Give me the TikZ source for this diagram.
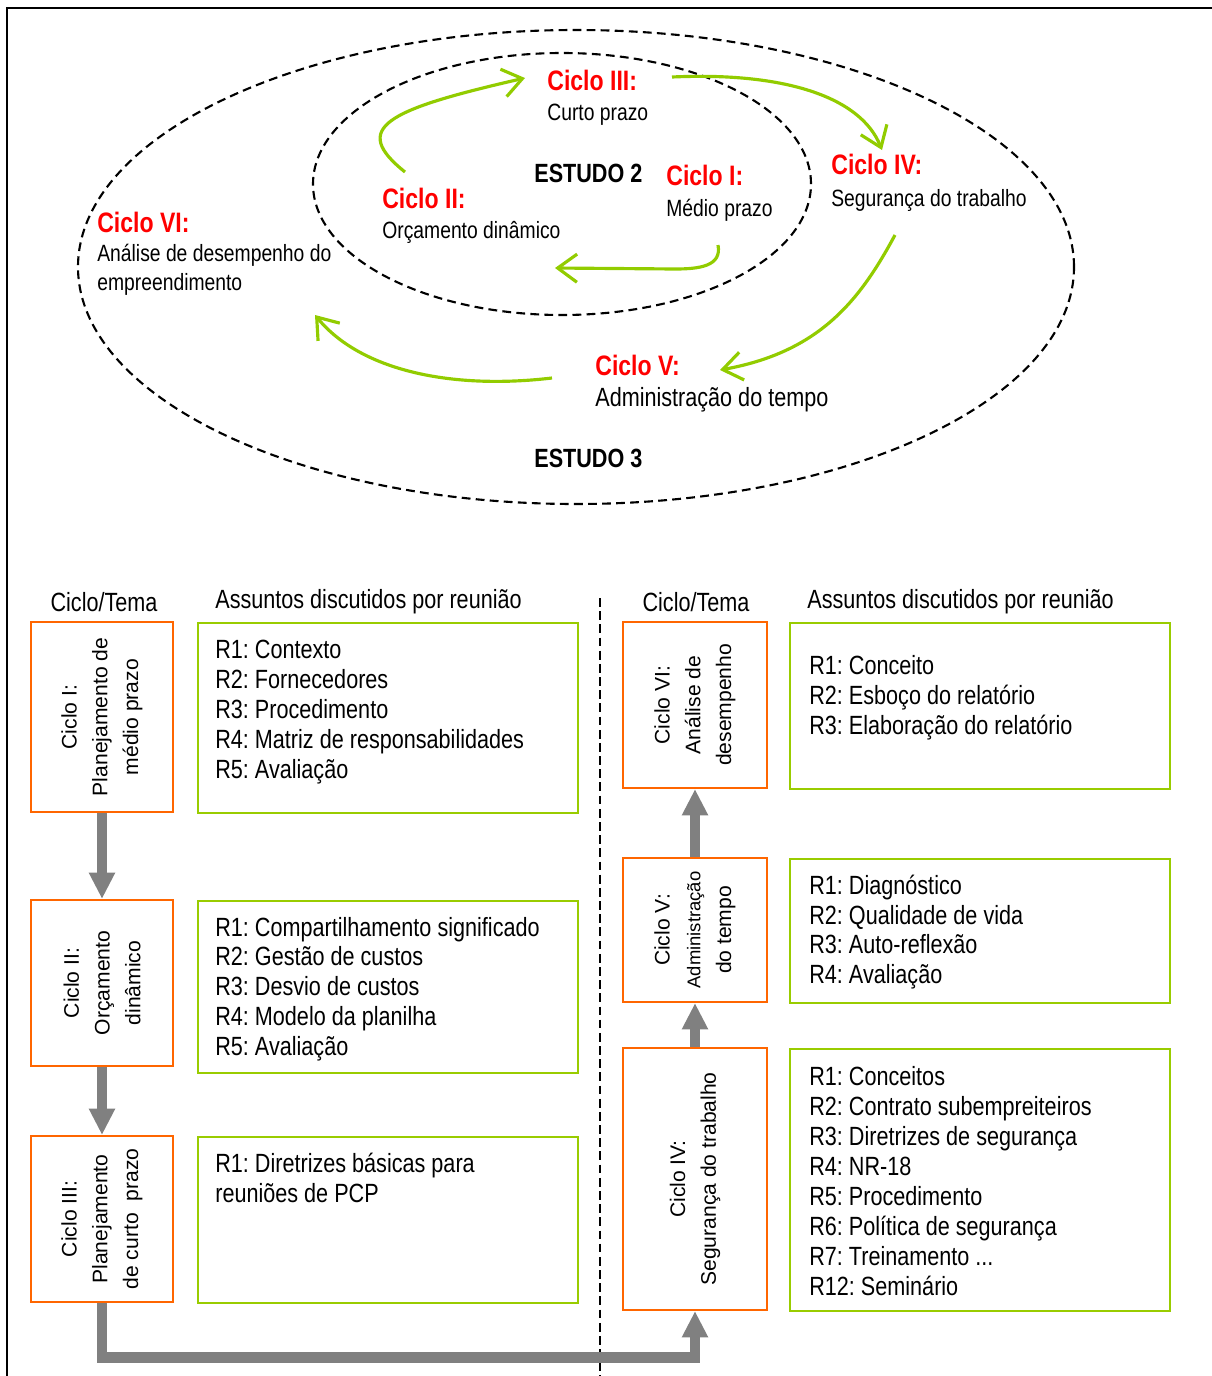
\documentclass[tikz,border=0pt]{standalone}
\usepackage{fontspec}
\setmainfont{Liberation Sans}
\newfontfamily\narrow{Liberation Sans}[FakeStretch=0.82]
\usetikzlibrary{arrows.meta,positioning,calc,shapes.geometric}
\definecolor{cycred}{RGB}{255,0,0}
\definecolor{arrgreen}{RGB}{146,204,0}
\definecolor{boxgreen}{RGB}{153,204,0}
\definecolor{boxorange}{RGB}{255,102,0}
\definecolor{flowgray}{RGB}{128,128,128}
\frenchspacing
\tikzset{
  study/.style={draw, ellipse, inner sep=0pt, dash pattern=on 5pt off 3pt, line width=1.2pt},
  cycname/.style={anchor=base west, inner sep=0pt, text=cycred, font=\narrow\bfseries\fontsize{16}{18}\selectfont},
  cycdesc/.style={anchor=base west, inner sep=0pt, font=\narrow\fontsize{13.4}{16}\selectfont},
  studyname/.style={anchor=base west, inner sep=0pt, font=\narrow\bfseries\fontsize{15}{17}\selectfont},
  loop/.style={draw=arrgreen, line width=1.8pt, -{Straight Barb[length=11pt,width=16pt,line width=1.8pt]}},
  head/.style={inner sep=0pt, font=\narrow\fontsize{15}{17}\selectfont},
  cyclebox/.style={draw=boxorange, line width=1.2pt, inner sep=0pt},
  cycletext/.style={rotate=90, align=center, inner sep=0pt, font=\fontsize{12}{17.5}\selectfont},
  topicbox/.style={draw=boxgreen, line width=1.2pt, anchor=north west, inner sep=0pt},
  topictext/.style={align=left, inner sep=0pt, font=\narrow\fontsize{15}{17}\selectfont},
  flow/.style={draw=flowgray, line width=6.2pt, line join=miter, -{Triangle[length=15pt,width=14pt]}},
}
\begin{document}
\begin{tikzpicture}[x=0.02cm, y=-0.02cm]
\useasboundingbox (0,0) rectangle (1212,1376);
% frame
\coordinate (ftl) at (7,8);
\coordinate (ftr) at (1212,8);
\coordinate (fbl) at (7,1376);
\draw[line width=0.8pt] (ftr) -- (ftl) -- (fbl);

% studies
\node[study, minimum width=996*0.02cm, minimum height=474*0.02cm] (s3) at (576,267) {};
\node[study, minimum width=498*0.02cm, minimum height=262*0.02cm] (s2) at (562,184) {};
\node[studyname] (s2l) at (534,182) {ESTUDO 2};
\node[studyname] (s3l) at (534,467) {ESTUDO 3};

% cycles
\node[cycname] (c3) at (547,90) {Ciclo III:};
\node[cycdesc] (c3d) at (547,120) {Curto prazo};
\node[cycname] (c1) at (666,185) {Ciclo I:};
\node[cycdesc] (c1d) at (666,216) {Médio prazo};
\node[cycname] (c2) at (382,208) {Ciclo II:};
\node[cycdesc] (c2d) at (382,238) {Orçamento dinâmico};
\node[cycname] (c4) at (831,174) {Ciclo IV:};
\node[cycdesc] (c4d) at (831,206) {Segurança do trabalho};
\node[cycname] (c6) at (97,232) {Ciclo VI:};
\node[cycdesc] (c6d) at (97,261) {Análise de desempenho do};
\node[cycdesc] (c6e) at (97,290) {empreendimento};
\node[cycname] (c5) at (595,375) {Ciclo V:};
\node[cycdesc, font=\narrow\fontsize{15}{17}\selectfont] (c5d) at (595,406) {Administração do tempo};

\coordinate (a1s) at (405,172);
\coordinate (a1e) at (525,78);
\coordinate (a2s) at (672,77);
\coordinate (a2e) at (882,150);
\coordinate (a3s) at (718,245);
\coordinate (a3e) at (555,268);
\coordinate (a4s) at (895,235);
\coordinate (a4e) at (720,370);
\coordinate (a5s) at (552,378);
\coordinate (a5e) at (315,315);
\draw[loop] (a1s) .. controls (350,128) and (385,110) .. (a1e);
\draw[loop] (a2s) .. controls (780,72) and (860,95) .. (a2e);
\draw[loop] (a3s) .. controls (722,266) and (700,269) .. (675,269) -- (a3e);
\draw[loop] (a4s) .. controls (860,300) and (820,352) .. (a4e);
\draw[loop] (a5s) .. controls (450,390) and (360,370) .. (a5e);

% table headers
\node[head] (h1) at (104,602) {Ciclo/Tema};
\node[head, anchor=west] (h2) at (215,602) {Assuntos discutidos por reunião};
\node[head] (h3) at (696,602) {Ciclo/Tema};
\node[head, anchor=west] (h4) at (807,602) {Assuntos discutidos por reunião};
\coordinate (sept) at (600,598);
\coordinate (sepb) at (600,1376);
\draw[dash pattern=on 5pt off 2.5pt, line width=1.2pt] (sept) -- (sepb);

% left column
\node[cyclebox, minimum width=142*0.02cm, minimum height=190*0.02cm] (o1) at (102,717) {};
\node[cycletext] (o1t) at (o1) {Ciclo I:\\Planejamento de\\médio prazo};
\node[cyclebox, minimum width=142*0.02cm, minimum height=166*0.02cm] (o2) at (102,983) {};
\node[cycletext] (o2t) at (o2) {Ciclo II:\\Orçamento\\dinâmico};
\node[cyclebox, minimum width=142*0.02cm, minimum height=166*0.02cm] (o3) at (102,1219) {};
\node[cycletext] (o3t) at (o3) {Ciclo III:\\Planejamento\\de curto\ \ prazo};

\node[topicbox, minimum width=380*0.02cm, minimum height=190*0.02cm] (g1) at (197,622) {};
\node[topictext, anchor=west] (g1t) at ([shift={(18,-6)}]g1.west)
  {R1: Contexto\\R2: Fornecedores\\R3: Procedimento\\R4: Matriz de responsabilidades\\R5: Avaliação};
\node[topicbox, minimum width=380*0.02cm, minimum height=172*0.02cm] (g2) at (197,900) {};
\node[topictext, anchor=west] (g2t) at ([shift={(18,2)}]g2.west)
  {R1: Compartilhamento significado\\R2: Gestão de custos\\R3: Desvio de custos\\R4: Modelo da planilha\\R5: Avaliação};
\node[topicbox, minimum width=380*0.02cm, minimum height=166*0.02cm] (g3) at (197,1136) {};
\node[topictext, anchor=north west] (g3t) at ([shift={(18,17)}]g3.north west)
  {R1: Diretrizes básicas para\\reuniões de PCP};

% right column
\node[cyclebox, minimum width=144*0.02cm, minimum height=166*0.02cm] (o6) at (695,705) {};
\node[cycletext] (o6t) at (o6) {Ciclo VI:\\Análise de\\desempenho};
\node[cyclebox, minimum width=144*0.02cm, minimum height=144*0.02cm] (o5) at (695,930) {};
\node[cycletext] (o5t) at (o5) {Ciclo V:\\{\fontsize{10.5}{15}\selectfont Administração}\\do tempo};
\node[cyclebox, minimum width=144*0.02cm, minimum height=262*0.02cm] (o4) at (695,1179) {};
\node[cycletext] (o4t) at (o4) {Ciclo IV:\\Segurança do trabalho};

\node[topicbox, minimum width=380*0.02cm, minimum height=166*0.02cm] (g6) at (789,622) {};
\node[topictext, anchor=west] (g6t) at ([shift={(20,-8)}]g6.west)
  {R1: Conceito\\R2: Esboço do relatório\\R3: Elaboração do relatório};
\node[topicbox, minimum width=380*0.02cm, minimum height=144*0.02cm] (g5) at (789,858) {};
\node[topictext, anchor=west] (g5t) at ([shift={(20,1)}]g5.west)
  {R1: Diagnóstico\\R2: Qualidade de vida\\R3: Auto-reflexão\\R4: Avaliação};
\node[topicbox, minimum width=380*0.02cm, minimum height=262*0.02cm] (g4) at (789,1048) {};
\node[topictext, anchor=west] (g4t) at ([shift={(20,1)}]g4.west)
  {R1: Conceitos\\R2: Contrato subempreiteiros\\R3: Diretrizes de segurança\\R4: NR-18\\R5: Procedimento\\R6: Política de segurança\\R7: Treinamento ...\\R12: Seminário};

% flow between cycles
\draw[flow] (o1) -- (o2);
\draw[flow] (o2) -- (o3);
\draw[flow] (o3.south) -- ++(0,54) -| (o4.south);
\draw[flow] (o4) -- (o5);
\draw[flow] (o5) -- (o6);
\end{tikzpicture}
\end{document}
